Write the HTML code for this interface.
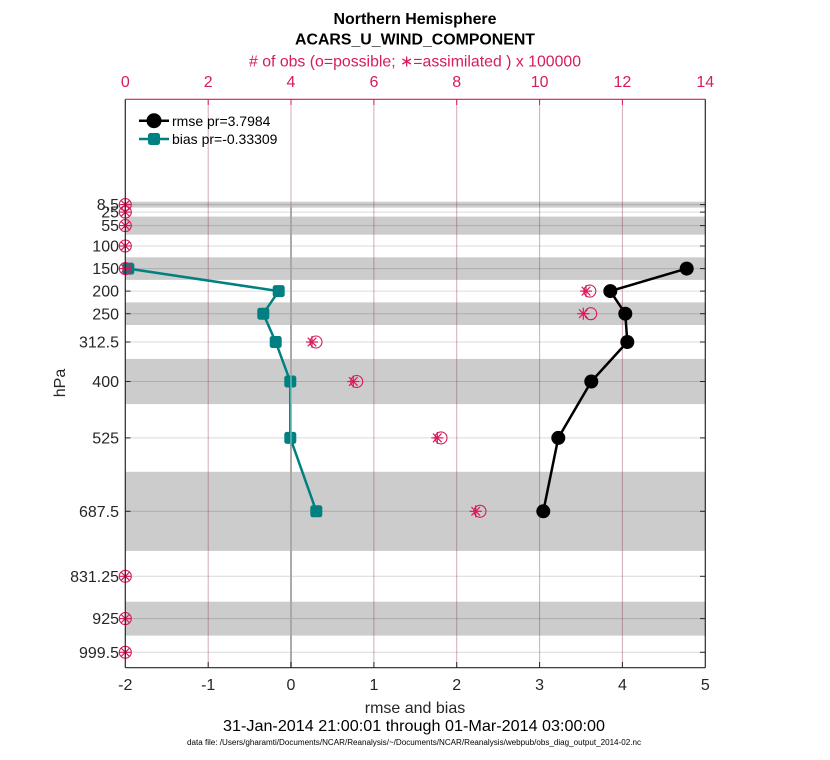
<!DOCTYPE html>
<html><head><meta charset="utf-8"><style>
html,body{margin:0;padding:0;background:#fff;}
svg{display:block;font-family:"Liberation Sans",Arial,Helvetica,sans-serif;}
</style></head><body>
<svg width="830" height="760" viewBox="0 0 830 760" xmlns="http://www.w3.org/2000/svg">
<rect x="0" y="0" width="830" height="760" fill="#fff"/>
<rect x="125.3" y="99.3" width="580" height="568.4" fill="#fff"/>
<g fill="#cccccc">
<rect x="125.3" y="201.7" width="580" height="5.9"/>
<rect x="125.3" y="216.6" width="580" height="18.1"/>
<rect x="125.3" y="257.3" width="580" height="22.6"/>
<rect x="125.3" y="302.4" width="580" height="22.6"/>
<rect x="125.3" y="358.9" width="580" height="45.2"/>
<rect x="125.3" y="471.8" width="580" height="79.1"/>
<rect x="125.3" y="601.7" width="580" height="33.9"/>
</g>
<g stroke="#000" stroke-opacity="0.15" stroke-width="1">
<line x1="125.3" x2="705.3" y1="204.6" y2="204.6"/>
<line x1="125.3" x2="705.3" y1="212.1" y2="212.1"/>
<line x1="125.3" x2="705.3" y1="225.6" y2="225.6"/>
<line x1="125.3" x2="705.3" y1="246.0" y2="246.0"/>
<line x1="125.3" x2="705.3" y1="268.6" y2="268.6"/>
<line x1="125.3" x2="705.3" y1="291.1" y2="291.1"/>
<line x1="125.3" x2="705.3" y1="313.7" y2="313.7"/>
<line x1="125.3" x2="705.3" y1="342.0" y2="342.0"/>
<line x1="125.3" x2="705.3" y1="381.5" y2="381.5"/>
<line x1="125.3" x2="705.3" y1="437.9" y2="437.9"/>
<line x1="125.3" x2="705.3" y1="511.3" y2="511.3"/>
<line x1="125.3" x2="705.3" y1="576.3" y2="576.3"/>
<line x1="125.3" x2="705.3" y1="618.6" y2="618.6"/>
<line x1="125.3" x2="705.3" y1="652.3" y2="652.3"/>
</g>
<g stroke="#8a3050" stroke-opacity="0.4" stroke-width="1">
<line x1="208.2" x2="208.2" y1="99.3" y2="667.7"/>
<line x1="291.0" x2="291.0" y1="99.3" y2="667.7"/>
<line x1="373.9" x2="373.9" y1="99.3" y2="667.7"/>
<line x1="456.7" x2="456.7" y1="99.3" y2="667.7"/>
<line x1="539.6" x2="539.6" y1="99.3" y2="667.7"/>
<line x1="622.4" x2="622.4" y1="99.3" y2="667.7"/>
</g>
<line x1="291" x2="291" y1="207" y2="667.7" stroke="#a9a9a9" stroke-width="2"/>

<polyline fill="none" stroke="#008080" stroke-width="2.5" stroke-linejoin="round"
 points="128.3,268.6 278.7,291.1 263.3,313.7 275.7,342.0 290.3,381.5 290.3,437.9 316.3,511.3"/>
<g fill="#008080">
<rect x="122.3" y="262.6" width="12" height="12" rx="2.5"/>
<rect x="272.7" y="285.1" width="12" height="12" rx="2.5"/>
<rect x="257.3" y="307.7" width="12" height="12" rx="2.5"/>
<rect x="269.7" y="336.0" width="12" height="12" rx="2.5"/>
<rect x="284.3" y="375.5" width="12" height="12" rx="2.5"/>
<rect x="284.3" y="431.9" width="12" height="12" rx="2.5"/>
<rect x="310.3" y="505.3" width="12" height="12" rx="2.5"/>
</g>
<line x1="291" x2="291" y1="375" y2="444" stroke="#9fcfcf" stroke-width="1"/>

<polyline fill="none" stroke="#000" stroke-width="2.5" stroke-linejoin="round"
 points="686.7,268.6 610.3,291.1 625.3,313.7 627.3,342.0 591.3,381.5 558.3,437.9 543.3,511.3"/>
<g fill="#000">
<circle cx="686.7" cy="268.6" r="7"/>
<circle cx="610.3" cy="291.1" r="7"/>
<circle cx="625.3" cy="313.7" r="7"/>
<circle cx="627.3" cy="342.0" r="7"/>
<circle cx="591.3" cy="381.5" r="7"/>
<circle cx="558.3" cy="437.9" r="7"/>
<circle cx="543.3" cy="511.3" r="7"/>
</g>

<defs>
<g id="ast" stroke="#d81b5a" stroke-width="1.2" fill="none">
<line x1="-6" y1="0" x2="6" y2="0"/>
<line x1="0" y1="-6" x2="0" y2="6"/>
<line x1="-4.3" y1="-4.3" x2="4.3" y2="4.3"/>
<line x1="-4.3" y1="4.3" x2="4.3" y2="-4.3"/>
</g>
<circle id="oc" r="6" fill="none" stroke="#d81b5a" stroke-width="1.1"/>
</defs>
<g>
<use href="#oc" x="125.3" y="204.6"/><use href="#ast" x="125.3" y="204.6"/>
<use href="#oc" x="125.3" y="212.1"/><use href="#ast" x="125.3" y="212.1"/>
<use href="#oc" x="125.3" y="225.6"/><use href="#ast" x="125.3" y="225.6"/>
<use href="#oc" x="125.3" y="246.0"/><use href="#ast" x="125.3" y="246.0"/>
<use href="#oc" x="125.3" y="268.6"/><use href="#ast" x="125.3" y="268.6"/>
<use href="#oc" x="589.8" y="291.1"/><use href="#ast" x="586" y="291.1"/>
<use href="#oc" x="590.7" y="313.7"/><use href="#ast" x="583.3" y="313.7"/>
<use href="#oc" x="316" y="342.0"/><use href="#ast" x="312" y="342.0"/>
<use href="#oc" x="356.7" y="381.5"/><use href="#ast" x="353.3" y="381.5"/>
<use href="#oc" x="441" y="437.9"/><use href="#ast" x="437.3" y="437.9"/>
<use href="#oc" x="480" y="511.3"/><use href="#ast" x="475.7" y="511.3"/>
<use href="#oc" x="125.3" y="576.3"/><use href="#ast" x="125.3" y="576.3"/>
<use href="#oc" x="125.3" y="618.6"/><use href="#ast" x="125.3" y="618.6"/>
<use href="#oc" x="125.3" y="652.3"/><use href="#ast" x="125.3" y="652.3"/>
</g>

<line x1="125.3" x2="705.3" y1="667.7" y2="667.7" stroke="#262626" stroke-width="1.2"/>
<line x1="125.3" x2="125.3" y1="99.3" y2="667.7" stroke="#262626" stroke-width="1.2"/>
<line x1="705.3" x2="705.3" y1="99.3" y2="667.7" stroke="#262626" stroke-width="1.2"/>
<line x1="125.3" x2="705.3" y1="99.3" y2="99.3" stroke="#d81b5a" stroke-width="1.2"/>
<g stroke="#262626" stroke-width="1">
<line x1="208.2" x2="208.2" y1="667.7" y2="662"/>
<line x1="291.0" x2="291.0" y1="667.7" y2="662"/>
<line x1="373.9" x2="373.9" y1="667.7" y2="662"/>
<line x1="456.7" x2="456.7" y1="667.7" y2="662"/>
<line x1="539.6" x2="539.6" y1="667.7" y2="662"/>
<line x1="622.4" x2="622.4" y1="667.7" y2="662"/>
</g>
<g stroke="#d81b5a" stroke-width="1">
<line x1="208.2" x2="208.2" y1="99.3" y2="105"/>
<line x1="291.0" x2="291.0" y1="99.3" y2="105"/>
<line x1="373.9" x2="373.9" y1="99.3" y2="105"/>
<line x1="456.7" x2="456.7" y1="99.3" y2="105"/>
<line x1="539.6" x2="539.6" y1="99.3" y2="105"/>
<line x1="622.4" x2="622.4" y1="99.3" y2="105"/>
</g>
<g stroke="#262626" stroke-width="1">
<line x1="125.3" x2="130.5" y1="291.1" y2="291.1"/>
<line x1="125.3" x2="130.5" y1="313.7" y2="313.7"/>
<line x1="125.3" x2="130.5" y1="342.0" y2="342.0"/>
<line x1="125.3" x2="130.5" y1="381.5" y2="381.5"/>
<line x1="125.3" x2="130.5" y1="437.9" y2="437.9"/>
<line x1="125.3" x2="130.5" y1="511.3" y2="511.3"/>
<line x1="705.3" x2="700" y1="204.6" y2="204.6"/>
<line x1="705.3" x2="700" y1="212.1" y2="212.1"/>
<line x1="705.3" x2="700" y1="225.6" y2="225.6"/>
<line x1="705.3" x2="700" y1="246.0" y2="246.0"/>
<line x1="705.3" x2="700" y1="268.6" y2="268.6"/>
<line x1="705.3" x2="700" y1="291.1" y2="291.1"/>
<line x1="705.3" x2="700" y1="313.7" y2="313.7"/>
<line x1="705.3" x2="700" y1="342.0" y2="342.0"/>
<line x1="705.3" x2="700" y1="381.5" y2="381.5"/>
<line x1="705.3" x2="700" y1="437.9" y2="437.9"/>
<line x1="705.3" x2="700" y1="511.3" y2="511.3"/>
<line x1="705.3" x2="700" y1="576.3" y2="576.3"/>
<line x1="705.3" x2="700" y1="618.6" y2="618.6"/>
<line x1="705.3" x2="700" y1="652.3" y2="652.3"/>
</g>

<g font-size="16" fill="#262626" text-anchor="end">
<text x="119" y="210.2">8.5</text>
<text x="119" y="217.7">25</text>
<text x="119" y="231.2">55</text>
<text x="119" y="251.6">100</text>
<text x="119" y="274.2">150</text>
<text x="119" y="296.7">200</text>
<text x="119" y="319.3">250</text>
<text x="119" y="347.6">312.5</text>
<text x="119" y="387.1">400</text>
<text x="119" y="443.5">525</text>
<text x="119" y="516.9">687.5</text>
<text x="119" y="581.9">831.25</text>
<text x="119" y="624.2">925</text>
<text x="119" y="657.9">999.5</text>
</g>
<g font-size="16" fill="#262626" text-anchor="middle">
<text x="125.3" y="690">-2</text>
<text x="208.2" y="690">-1</text>
<text x="291.0" y="690">0</text>
<text x="373.9" y="690">1</text>
<text x="456.7" y="690">2</text>
<text x="539.6" y="690">3</text>
<text x="622.4" y="690">4</text>
<text x="705.3" y="690">5</text>
</g>
<g font-size="16" fill="#d81b5a" text-anchor="middle">
<text x="125.3" y="87">0</text>
<text x="208.2" y="87">2</text>
<text x="291.0" y="87">4</text>
<text x="373.9" y="87">6</text>
<text x="456.7" y="87">8</text>
<text x="539.6" y="87">10</text>
<text x="622.4" y="87">12</text>
<text x="705.3" y="87">14</text>
</g>

<text x="415" y="24" font-size="16" font-weight="bold" text-anchor="middle" fill="#000" textLength="163" lengthAdjust="spacingAndGlyphs">Northern Hemisphere</text>
<text x="415" y="44.3" font-size="16" font-weight="bold" text-anchor="middle" fill="#000" textLength="240" lengthAdjust="spacingAndGlyphs">ACARS_U_WIND_COMPONENT</text>
<text x="415" y="66.7" font-size="16" text-anchor="middle" fill="#d81b5a" textLength="332" lengthAdjust="spacingAndGlyphs"># of obs (o=possible; ∗=assimilated ) x 100000</text>

<text x="415" y="713" font-size="16" text-anchor="middle" fill="#262626">rmse and bias</text>
<text x="414" y="731" font-size="16" text-anchor="middle" fill="#000" textLength="382" lengthAdjust="spacingAndGlyphs">31-Jan-2014 21:00:01 through 01-Mar-2014 03:00:00</text>
<text x="414" y="745" font-size="8" text-anchor="middle" fill="#000" textLength="454" lengthAdjust="spacingAndGlyphs">data file: /Users/gharamti/Documents/NCAR/Reanalysis/~/Documents/NCAR/Reanalysis/webpub/obs_diag_output_2014-02.nc</text>

<text x="0" y="0" font-size="16" text-anchor="middle" fill="#262626" transform="translate(65,383) rotate(-90)">hPa</text>

<line x1="139" x2="169" y1="120.7" y2="120.7" stroke="#000" stroke-width="2.5"/>
<circle cx="154" cy="120.7" r="7.5" fill="#000"/>
<line x1="139" x2="169" y1="139" y2="139" stroke="#008080" stroke-width="2.5"/>
<rect x="148" y="133" width="12" height="12" rx="2.5" fill="#008080"/>
<text x="172" y="126" font-size="14" fill="#000">rmse pr=3.7984</text>
<text x="172" y="144" font-size="14" fill="#000">bias pr=-0.33309</text>
</svg>
</body></html>
